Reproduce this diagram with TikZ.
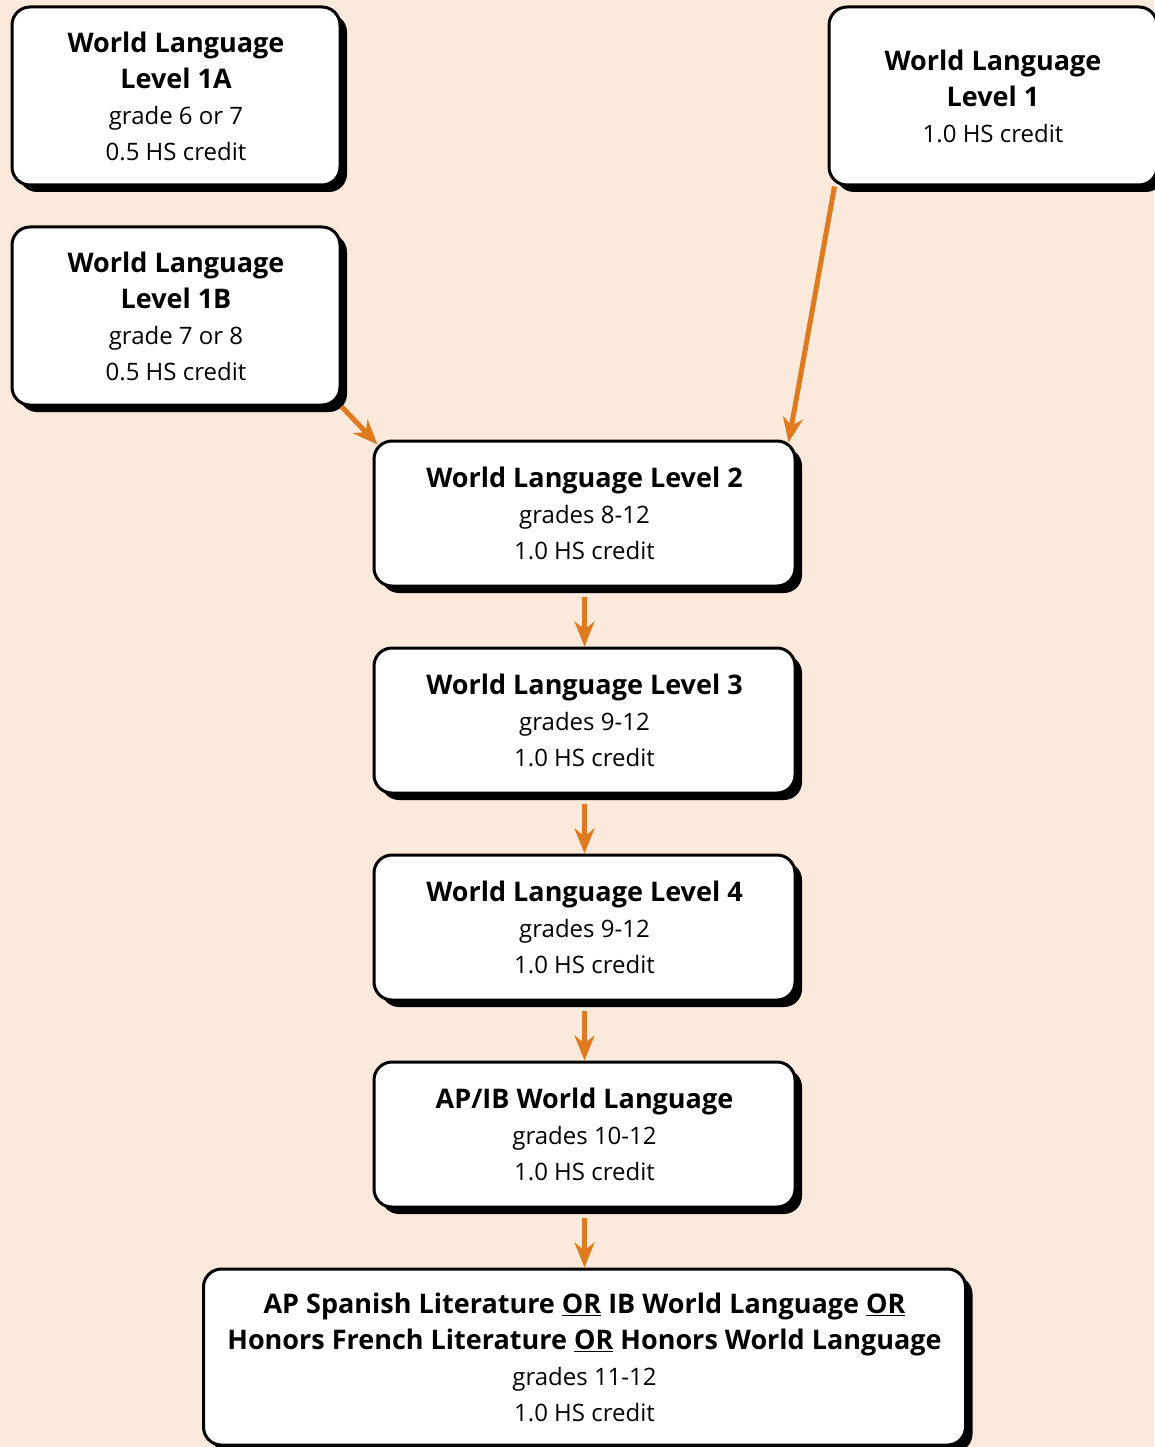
\documentclass[tikz,border=0pt]{standalone}
\usepackage{fontspec}
\setmainfont{Open Sans}
\usetikzlibrary{positioning,arrows.meta,calc,shadows}
\definecolor{peach}{HTML}{FBEADB}
\definecolor{flow} {HTML}{E07A1F}
\newcommand{\ttl}[1]{{\fontsize{27}{34}\selectfont\bfseries #1}}
\tikzset{
  course/.style={draw=black, line width=3pt, fill=white,
                 rounded corners=18pt, align=center, inner sep=4pt,
                 font=\fontsize{24}{36}\selectfont,
                 drop shadow={shadow xshift=7pt, shadow yshift=-7pt,
                              opacity=1, fill=black}},
  half/.style  ={course, minimum width=328pt, minimum height=178pt},
  lvl/.style   ={course, minimum width=421pt, minimum height=145pt},
  ar/.style    ={-{Stealth[length=25pt, width=20pt, inset=8pt]},
                 draw=flow, line width=5pt}
}
\begin{document}
\begin{tikzpicture}[x=1pt, y=-1pt, node distance=59pt]
\fill[peach] (0,0) rectangle (1154,1447);
\useasboundingbox (0,0) rectangle (1154,1447);

\node[half] (l1a) at (176,96) {\ttl{World Language}\\\ttl{Level 1A}\\grade 6 or 7\\0.5 HS credit};
\node[half, below=39pt of l1a] (l1b) {\ttl{World Language}\\\ttl{Level 1B}\\grade 7 or 8\\0.5 HS credit};
\node[half] (l1) at (993,96) {\ttl{World Language}\\\ttl{Level 1}\\1.0 HS credit};

\node[lvl] (l2) at (584.5,513.5) {\ttl{World Language Level 2}\\grades 8-12\\1.0 HS credit};
\node[lvl, below=of l2] (l3) {\ttl{World Language Level 3}\\grades 9-12\\1.0 HS credit};
\node[lvl, below=of l3] (l4) {\ttl{World Language Level 4}\\grades 9-12\\1.0 HS credit};
\node[lvl, below=of l4] (apib) {\ttl{AP/IB World Language}\\grades 10-12\\1.0 HS credit};
\node[course, minimum width=762pt, minimum height=176pt, below=of apib] (final)
  {\ttl{AP Spanish Literature \underline{OR} IB World Language \underline{OR}}\\
   \ttl{Honors French Literature \underline{OR} Honors World Language}\\grades 11-12\\1.0 HS credit};

\draw[ar] (l1b.south east) -- ($(l2.north west)+(5,5)$);
\draw[ar] ($(l1.south west)+(7,0)$) -- ($(l2.north east)+(-8,3)$);
\foreach \a/\b in {l2/l3,l3/l4,l4/apib,apib/final}
  \draw[ar, shorten <=9pt] (\a) -- (\b);
\end{tikzpicture}
\end{document}
